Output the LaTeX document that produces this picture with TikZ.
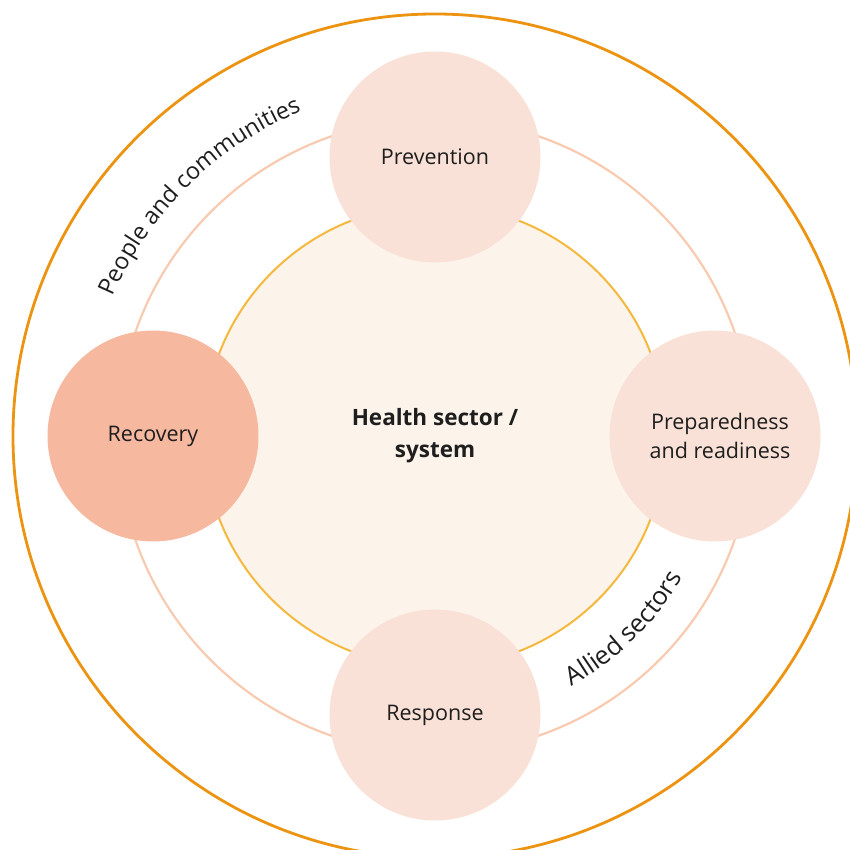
\documentclass[tikz,border=0pt]{standalone}
\usepackage{fontspec}
\setmainfont{Open Sans}
\newfontfamily\ringfont{Open Sans}
\usetikzlibrary{decorations.text}

\definecolor{outerorange}{HTML}{EC9312}
\definecolor{ringpeach}{HTML}{F8CAB0}
\definecolor{coreline}{HTML}{F5B83E}
\definecolor{corefill}{HTML}{FCF3EA}
\definecolor{phasefill}{HTML}{F9E1D7}
\definecolor{recoveryfill}{HTML}{F7B8A0}
\definecolor{labeltext}{HTML}{1E1E1E}

\begin{document}
\begin{tikzpicture}[
                x=1pt, y=1pt,
                % Stile per le fasi (cerchi sull'anello)
                phase/.style={
                    circle,
                    fill=phasefill,
                    minimum size=211pt,
                    inner sep=0pt,
                    align=center,
                    text=labeltext,
                    font=\fontsize{21.5}{29}\selectfont
                },
                % Testo curvo lungo gli anelli
                ringlabel/.style 2 args={
                    decorate,
                    decoration={text along path, text align=center,
                        text color=labeltext,
                        text={|\ringfont\fontsize{#1}{#1}\selectfont|#2}}
                }
            ]

                % Area del disegno
                \useasboundingbox (-435, -414) rectangle (414, 436);

                % ========================================================
                % 1. Anelli
                % ========================================================
                \draw[outerorange, line width=2.8pt] (0, 0) circle[radius=422pt];
                \draw[ringpeach, line width=2.2pt] (0, 0) circle[radius=317pt];

                % Cerchio centrale
                \node[circle, draw=coreline, line width=2pt, fill=corefill,
                      minimum size=462pt, inner sep=0pt, align=center,
                      text=labeltext, font=\fontsize{22.5}{32}\selectfont\bfseries]
                    (core) at (0, 0) {Health sector /\\system};

                % ========================================================
                % 2. Fasi
                % ========================================================
                \node[phase] (prevention) at (90:279) {Prevention};
                \node[phase] (preparedness) at (0:280) {\hspace*{10pt}Preparedness\\\hspace*{10pt}and readiness};
                \node[phase] (response) at (270:279) {Response};
                \node[phase, fill=recoveryfill] (recovery) at (180:282) {Recovery};

                % ========================================================
                % 3. Testo curvo
                % ========================================================
                \path[ringlabel={23.5}{People and communities}]
                    (158:351) arc[start angle=158, end angle=111, radius=351pt];
                \path[ringlabel={25.5}{Allied sectors}]
                    (-67:285) arc[start angle=-67, end angle=-24, radius=285pt];

            \end{tikzpicture}
\end{document}
